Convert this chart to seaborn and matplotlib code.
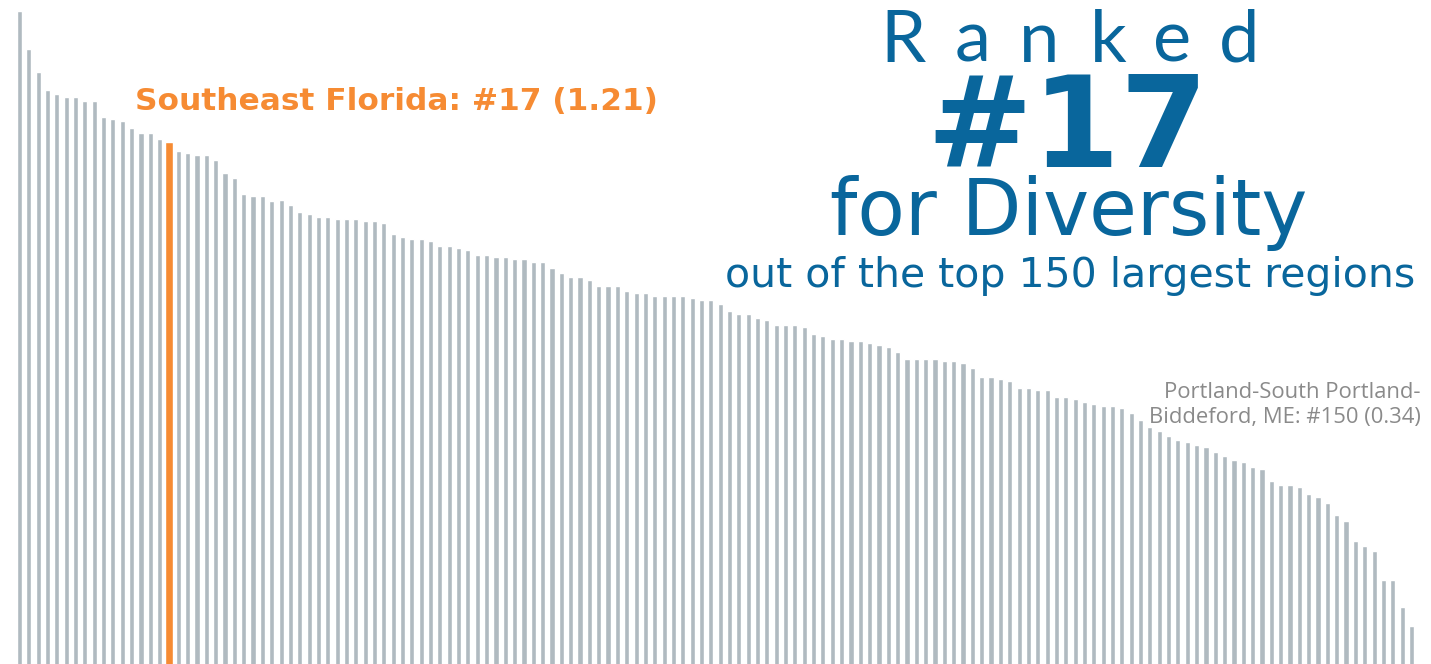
import pandas as pd
import matplotlib
matplotlib.use("Agg")
import matplotlib.pyplot as plt
import seaborn as sns

# Diversity index of the 150 largest regions, sorted high -> low
diversity = [
    1.445, 1.377, 1.336, 1.303, 1.296, 1.291, 1.291, 1.284, 1.284, 1.255,
    1.251, 1.248, 1.235, 1.226, 1.226, 1.215, 1.210, 1.194, 1.190, 1.187,
    1.187, 1.178, 1.154, 1.145, 1.117, 1.113, 1.113, 1.104, 1.106, 1.097,
    1.084, 1.081, 1.076, 1.076, 1.072, 1.072, 1.072, 1.068, 1.068, 1.064,
    1.044, 1.040, 1.036, 1.036, 1.032, 1.023, 1.023, 1.019, 1.016, 1.007,
    1.007, 1.003, 1.003, 0.999, 0.999, 0.995, 0.995, 0.983, 0.975, 0.967,
    0.967, 0.962, 0.951, 0.951, 0.951, 0.942, 0.938, 0.938, 0.934, 0.934,
    0.934, 0.934, 0.930, 0.926, 0.926, 0.918, 0.906, 0.901, 0.901, 0.893,
    0.890, 0.881, 0.881, 0.881, 0.877, 0.865, 0.861, 0.856, 0.856, 0.852,
    0.852, 0.849, 0.845, 0.842, 0.833, 0.820, 0.820, 0.820, 0.820, 0.816,
    0.816, 0.812, 0.804, 0.788, 0.788, 0.784, 0.780, 0.767, 0.767, 0.764,
    0.764, 0.751, 0.751, 0.748, 0.743, 0.739, 0.735, 0.735, 0.731, 0.723,
    0.710, 0.698, 0.690, 0.682, 0.674, 0.670, 0.665, 0.662, 0.653, 0.646,
    0.638, 0.634, 0.625, 0.622, 0.601, 0.593, 0.593, 0.589, 0.577, 0.572,
    0.561, 0.540, 0.528, 0.492, 0.483, 0.475, 0.423, 0.423, 0.374, 0.340,
]
ranks = list(range(1, len(diversity) + 1))
highlight_rank = 17
highlight_label = "Southeast Florida: #17 (1.21)"
last_label = ["Portland-South Portland-", "Biddeford, ME: #150 (0.34)"]
title_word = "Ranked"
title_rank = "#17"
title_line3 = "for Diversity"
title_line4 = "out of the top 150 largest regions"

GRAY = "#b0bac0"
ORANGE = "#f68b33"
BLUE = "#09669c"
LABEL_GRAY = "#8a8a8a"

df = pd.DataFrame({"rank": ranks, "diversity": diversity})
df["name"] = ["#%d" % r for r in df["rank"]]
palette = {n: (ORANGE if r == highlight_rank else GRAY) for n, r in zip(df["name"], df["rank"])}

sns.set_theme(style="white")
plt.rcParams["font.family"] = ["Lato", "DejaVu Sans"]

W, H = 1431, 664
fig = plt.figure(figsize=(W / 100, H / 100), dpi=100)
ax = fig.add_axes([0, 0, 1, 1])

sns.barplot(data=df, x="name", y="diversity", hue="name", palette=palette,
            legend=False, width=0.55, saturation=1, ax=ax)

# highlighted bar is drawn a bit wider
for p in ax.patches:
    if matplotlib.colors.to_hex(p.get_facecolor()) == ORANGE:
        cx = p.get_x() + p.get_width() / 2
        p.set_width(0.88)
        p.set_x(cx - 0.44)

# bars run off the bottom of the picture
pitch = 9.342
x0 = -19.5 / pitch
ax.set_xlim(x0, x0 + W / pitch)
ax.set_ylim(0.2717, 1.4653)
ax.axis("off")


def px(x, y):
    return x / W, 1 - y / H


# big heading, "Ranked" letter-spaced
for ch, cx in zip(title_word, [903, 973, 1039, 1108, 1172, 1239]):
    fig.text(*px(cx, 62), ch, ha="center", va="baseline", fontsize=52,
             color=BLUE, family="Lato")
fig.text(*px(1067, 167), title_rank, ha="center", va="baseline", fontsize=91,
         color=BLUE, family="DejaVu Sans", fontweight="bold")
fig.text(*px(1069, 235), title_line3, ha="center", va="baseline", fontsize=56,
         color=BLUE, family="DejaVu Sans")
fig.text(*px(1070, 287), title_line4, ha="center", va="baseline", fontsize=29.5,
         color=BLUE, family="DejaVu Sans")

fig.text(*px(135, 110), highlight_label, ha="left", va="baseline", fontsize=22.5,
         color=ORANGE, family="DejaVu Sans", fontweight="bold")

for line, yb in zip(last_label, [398, 423]):
    fig.text(*px(1421, yb), line, ha="right", va="baseline", fontsize=15.8,
             color=LABEL_GRAY, family="Open Sans")

fig.savefig("out.png", dpi=100)
